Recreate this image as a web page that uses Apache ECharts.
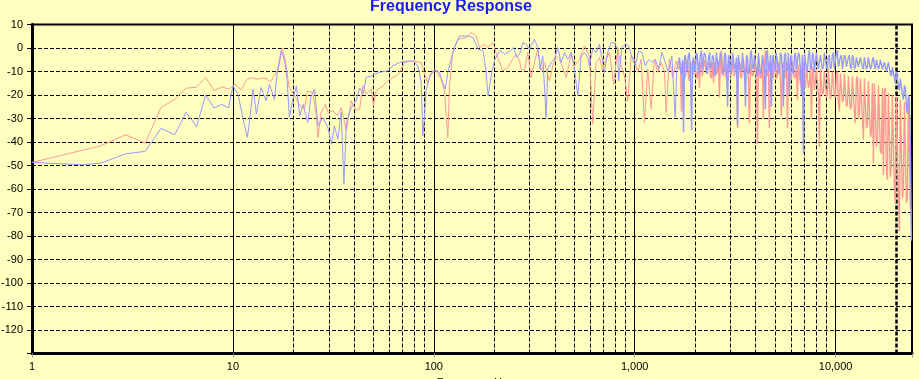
<!DOCTYPE html>
<html><head><meta charset="utf-8">
<script src="https://cdn.jsdelivr.net/npm/echarts@6/dist/echarts.min.js"></script>
<style>html,body{margin:0;padding:0;background:#ffffbf;}#c{width:919px;height:379px;}</style>
</head><body><div id="c"></div>
<script>
const chartTitle = 'Frequency Response';
const xAxisTitle = 'Frequency, Hz';
const seriesNames = ['Channel A', 'Channel B'];
const xTickLabels = {1: '1', 10: '10', 100: '100', 1000: '1,000', 10000: '10,000'};
const yTickValues = [10, 0, -10, -20, -30, -40, -50, -60, -70, -80, -90, -100, -110, -120];
const xRange = [1, 24000];
const yRange = [-130, 10];

// red (pink) trace, low / mid frequencies
const redHz = [1, 2.2, 2.93, 3.66, 4.39, 5.13, 5.86, 6.59, 7.32, 8.06,
  8.79, 9.52, 10.25, 10.99, 11.72, 12.45, 13.18, 13.92, 14.65, 15.38,
  16.11, 16.85, 17.58, 18.31, 19.04, 19.78, 20.51, 21.24, 21.97, 22.71,
  23.44, 25.0, 26.0, 26.5, 27.5, 28.9, 29.7, 31.4, 33.3, 34.6,
  36.7, 38.8, 41.1, 42.7, 44.4, 46.1, 48.8, 50.1, 51.7, 55.8,
  60.2, 65.0, 67.5, 71.5, 78.6, 86.6, 89.9, 93.3, 97.0, 102.8,
  108.8, 113, 117.4, 119.7, 124.3, 131.6, 145, 153.5, 162.5, 168.8,
  178.7, 185.7, 196.6, 208.2, 220.4, 233.4, 247.2, 257, 267, 272.2,
  282.6, 293.6, 305.2, 316.9, 329.2, 342.2, 355.3, 376.3, 390.9, 406.3,
  422, 455.7, 482.7, 501, 530.7, 562, 595, 618, 642.7, 667.4,
  693.2, 720.5, 748.3, 786.3, 823.2, 855.8, 889, 923, 959.6, 996.6,
  1035, 1076, 1118, 1161, 1207, 1253, 1302, 1353, 1405, 1433,
  1488, 1546, 1607, 1656];
const redDb = [-48.7, -41.6, -36.9, -40.5, -25.3, -21.8, -17.1, -16.7, -12.5, -18.2,
  -16.5, -17.5, -15.4, -17.9, -13.5, -12.6, -13.3, -12.8, -13.0, -14.5,
  -11.6, -9.0, 0.1, -6.0, -16.7, -18.8, -20.9, -23.5, -25.6, -26.0,
  -18.4, -18.9, -28.9, -38.1, -27.4, -23.9, -27.4, -26.7, -28.9, -25.3,
  -35.2, -22.5, -26.7, -26.0, -16.1, -19.6, -17.5, -24.6, -18.2, -16.1,
  -13.3, -11.9, -10.4, -6.2, -5.5, -6.2, -11.1, -14.7, -10.4, -9.7,
  -13.3, -18.2, -38.1, -16.1, -1.9, 3.7, 4.5, 6.6, 5.1, 0.2,
  1.6, 0.2, 2.3, -4.0, -9.7, -8.3, -4.8, -2.6, -5.5, -9.0,
  -9.7, -1.9, -12.5, -6.2, -0.5, -9.7, -6.2, -14.0, -7.6, -3.4,
  -4.8, -12.5, -2.6, -7.6, -4.8, 0.9, -3.4, -32.4, -6.2, -4.0,
  -9.7, -4.8, -1.9, -15.4, 0.2, -7.6, -11.9, -22.5, -3.4, -4.8,
  -10.4, -4.8, -31.7, -9.0, -26.0, -4.8, -10.4, -6.2, -9.7, -27.4,
  -4.8, -12.5, -5.5, -9.0];

// blue trace, low / mid frequencies
const blueHz = [1, 1.8, 2.2, 2.93, 3.66, 4.39, 5.13, 5.86, 6.59, 7.32,
  8.06, 8.79, 9.52, 10.0, 10.6, 11.2, 11.8, 12.1, 12.6, 13.1,
  13.8, 14.65, 15.2, 16.1, 16.7, 17.4, 18.1, 18.6, 19.1, 19.9,
  20.7, 21.5, 22.3, 23.6, 24.5, 25.5, 26.5, 28.0, 29.7, 30.9,
  32.0, 33.3, 34.6, 35.7, 36.7, 38.8, 41.1, 42.7, 44.4, 46.1,
  48.8, 50.7, 53.6, 59.0, 62.6, 67.5, 74.4, 78.6, 83.3, 86.6,
  88.1, 89.9, 91.5, 95.1, 100.7, 106.6, 110.6, 114.1, 117.4, 121.9,
  126.6, 134.2, 147.8, 156.6, 165.9, 175.8, 181.4, 186.3, 194.1, 201.6,
  213.6, 226.3, 239.8, 249.3, 259.3, 269.6, 277.3, 288.3, 299.7, 316.9,
  329.2, 338, 348.5, 362.4, 369, 383.5, 398.5, 414, 430.4, 447.2,
  464.7, 482.7, 501, 521, 541.5, 562, 584, 595, 618, 642.7,
  667.4, 693.2, 706, 733.5, 762, 791.5, 823.2, 831.5, 863.5, 897.5,
  932.6, 968.8, 1006, 1046, 1087, 1129, 1173, 1218, 1266, 1315,
  1366, 1419, 1474, 1531, 1591, 1621];
const blueDb = [-48.7, -49.7, -49.0, -45.0, -44.0, -34.2, -36.9, -27.4, -33.5, -20.0,
  -25.5, -24.0, -25.5, -16.1, -19.6, -29.5, -38.1, -31.0, -17.5, -28.1,
  -16.8, -22.5, -15.4, -21.8, -9.0, -1.2, -5.5, -13.3, -29.5, -21.8,
  -16.1, -28.9, -23.9, -31.7, -20.4, -17.5, -33.1, -29.5, -33.8, -40.9,
  -33.1, -38.8, -27.4, -57.9, -31.7, -25.3, -22.5, -17.0, -19.6, -12.5,
  -11.9, -11.1, -10.4, -9.7, -7.6, -6.2, -5.5, -5.5, -7.6, -14.7,
  -37.4, -28.9, -18.2, -12.5, -9.0, -10.4, -14.7, -17.5, -10.4, -4.8,
  0.2, 5.1, 5.1, 4.5, -0.5, -1.2, -9.0, -20.4, -10.4, -4.8,
  -1.2, -2.6, -1.2, 0.2, -4.0, -1.9, 2.3, 1.6, -0.5, 3.7,
  0.2, -9.0, -3.4, -29.5, -9.0, -6.2, -4.8, 0.2, -6.2, -1.9,
  -4.8, -1.9, -9.0, -20.4, -3.4, -1.9, -4.0, -7.6, -0.5, -1.9,
  1.6, -6.2, -10.4, -1.9, 2.3, 2.3, -0.5, -14.0, 0.2, 1.6,
  0.9, -4.0, -7.6, -1.2, -1.9, -7.6, -4.8, -6.2, -4.8, -9.0,
  -1.9, -6.2, -10.4, -3.4, -29.5, -9.0];

// dense high-frequency part (both traces read at the same frequencies)
const hfHz = [1670, 1690, 1710, 1730, 1750, 1770, 1790, 1810, 1830, 1850, 1870, 1890, 1920, 1940, 1960, 1980, 2010, 2030, 2050, 2080,
  2100, 2120, 2150, 2170, 2200, 2220, 2250, 2280, 2300, 2330, 2360, 2380, 2410, 2440, 2470, 2490, 2520, 2550, 2580, 2610,
  2640, 2670, 2700, 2730, 2770, 2800, 2830, 2860, 2900, 2930, 2960, 3000, 3030, 3070, 3100, 3130, 3170, 3210, 3250, 3280,
  3320, 3360, 3400, 3440, 3480, 3520, 3560, 3600, 3640, 3680, 3720, 3770, 3810, 3850, 3900, 3940, 3990, 4040, 4080, 4130,
  4180, 4220, 4270, 4320, 4370, 4420, 4470, 4530, 4580, 4630, 4680, 4740, 4790, 4850, 4900, 4960, 5020, 5070, 5130, 5190,
  5250, 5310, 5370, 5440, 5500, 5560, 5630, 5690, 5760, 5820, 5890, 5960, 6030, 6100, 6170, 6240, 6310, 6380, 6450, 6530,
  6600, 6680, 6760, 6830, 6910, 6990, 7070, 7160, 7240, 7320, 7410, 7490, 7580, 7670, 7750, 7840, 7930, 8020, 8120, 8210,
  8300, 8400, 8500, 8590, 8690, 8790, 8900, 9000, 9100, 9200, 9310, 9420, 9530, 9640, 9750, 9860, 9980, 10090, 10200, 10320,
  10440, 10560, 10690, 10810, 10930, 11060, 11190, 11320, 11450, 11580, 11710, 11840, 11980, 12120, 12260, 12400, 12540, 12690, 12840, 12980,
  13130, 13280, 13440, 13590, 13750, 13910, 14070, 14230, 14390, 14560, 14730, 14900, 15070, 15240, 15420, 15600, 15780, 15960, 16140, 16330,
  16520, 16710, 16900, 17090, 17290, 17490, 17690, 17890, 18100, 18310, 18520, 18730, 18950, 19170, 19390, 19610, 19840, 20070, 20300, 20530,
  20770, 21010, 21250, 21500, 21750, 22000, 22250, 22510, 22770, 23030, 23290, 23560, 23830];
const hfRed = [-9, -6, -27, -7, -6, -13, -12, -6, -5, -12, -14, -6, -7, -12, -11, -5, -5, -12, -13, -6,
  -17, -7, -6, -12, -12, -5, -5, -11, -11, -6, -7, -12, -13, -6, -15, -7, -6, -11, -10, -6,
  -21, -6, -1, -11, -12, -6, -6, -13, -13, -5, -5, -12, -11, -6, -7, -12, -12, -6, -34, -7,
  -6, -12, -13, -6, -5, -12, -12, -7, -7, -13, -32, -6, -6, -12, -11, -5, -5, -13, -41, -7,
  -7, -13, -12, -6, -30, -7, -1, -12, -11, -6, -34, -7, -6, -12, -13, -6, -5, -13, -12, -6,
  -7, -13, -29, -7, -6, -13, -12, -6, -34, -8, -7, -14, -13, -6, -6, -13, -12, -7, -22, -7,
  -7, -15, -14, -7, -6, -16, -17, -8, -8, -17, -15, -8, -30, -9, -8, -18, -18, -9, -9, -19,
  -42, -9, -9, -20, -19, -10, -10, -21, -20, -9, -9, -22, -19, -10, -10, -20, -21, -11, -10, -23,
  -27, -11, -11, -23, -22, -11, -11, -25, -24, -12, -12, -26, -25, -12, -12, -28, -32, -13, -12, -30,
  -28, -13, -13, -30, -39, -13, -13, -34, -33, -14, -14, -38, -36, -15, -49, -15, -15, -42, -40, -16,
  -16, -44, -45, -17, -54, -18, -17, -52, -56, -19, -19, -55, -50, -20, -20, -60, -66, -21, -21, -62,
  -78, -22, -22, -64, -60, -23, -23, -66, -63, -22, -22, -68, -70];
const hfBlue = [-4, -10, -11, -5, -36, -4, -3, -9, -10, -3, -2, -8, -35, -6, -4, -10, -9, -2, -3, -11,
  -10, -3, -1, -9, -9, -2, -3, -10, -11, -4, -2, -9, -8, -3, -4, -10, -12, -2, -2, -9,
  -9, -2, -3, -11, -10, -3, -2, -9, -25, -3, -4, -10, -11, -2, -2, -8, -9, -4, -33, -3,
  -3, -9, -10, -2, -2, -11, -25, -3, -4, -10, -11, -2, -1, -8, -9, -3, -3, -10, -12, -2,
  -2, -11, -10, -3, -3, -9, -26, -2, -1, -10, -9, -3, -25, -4, -3, -9, -10, -2, -2, -10,
  -11, -2, -3, -10, -25, -3, -2, -10, -9, -2, -20, -4, -3, -10, -11, -3, -2, -9, -9, -2,
  -3, -9, -20, -3, -45, -2, -2, -9, -10, -3, -1, -8, -9, -2, -3, -10, -10, -2, -2, -9,
  -9, -3, -3, -9, -8, -2, -2, -8, -9, -4, -3, -9, -8, -3, -2, -9, -9, -2, -1, -8,
  -8, -4, -3, -9, -9, -3, -4, -8, -8, -4, -3, -8, -9, -3, -4, -9, -8, -4, -4, -8,
  -8, -4, -4, -8, -9, -4, -4, -9, -8, -4, -4, -9, -8, -5, -4, -8, -9, -5, -5, -9,
  -8, -5, -5, -9, -9, -6, -6, -10, -10, -6, -6, -11, -12, -8, -8, -13, -15, -10, -10, -16,
  -18, -13, -13, -20, -22, -16, -17, -25, -28, -20, -22, -40, -82];

const zip = (xs, ys) => xs.map((x, i) => [x, ys[i]]);
const redLow = zip(redHz, redDb);
const blueLow = zip(blueHz, blueDb);
// the dense part is drawn as its own line (same colour), joined to the last low point
const redHigh = [redLow[redLow.length - 1]].concat(zip(hfHz, hfRed));
const blueHigh = [blueLow[blueLow.length - 1]].concat(zip(hfHz, hfBlue));

// minor grid positions (2..9 per decade, from 10 Hz up) and the 20 kHz line
const minorGrid = [10, 100, 1000].flatMap(d => [2, 3, 4, 5, 6, 7, 8, 9].map(m => m * d));
const heavyGrid = [20000];
const tickDepth = 1.8; // dB below axis for the small grey ticks

const RED = '#ff9999', BLUE = '#9999ff';
const FONT = 'Liberation Sans, Arial, sans-serif';
const lineSeries = (name, data, color, width, z) => ({
  name, type: 'line', data, symbol: 'none', z, silent: true,
  lineStyle: {color, width}, itemStyle: {color}
});
const chart = echarts.init(document.getElementById('c'), null, {renderer: 'canvas'});
chart.setOption({
  animation: false,
  backgroundColor: '#ffffbf',
  title: {
    text: chartTitle, left: 365, top: -6,
    textStyle: {color: '#1a1aff', fontSize: 16, fontWeight: 'bold', fontFamily: FONT}
  },
  grid: {left: 32, right: 7, top: 24.5, bottom: 25.5, show: true, containLabel: false,
    outerBoundsMode: 'none',
    backgroundColor: '#ffffbf', borderColor: '#000', borderWidth: 2},
  xAxis: {
    type: 'log', logBase: 10, min: xRange[0], max: xRange[1],
    name: xAxisTitle, nameLocation: 'middle', nameGap: 22,
    nameTextStyle: {color: '#000', fontSize: 11, fontFamily: FONT},
    axisLine: {show: true, onZero: false, lineStyle: {color: '#000', width: 3}},
    axisTick: {show: true, length: 4, lineStyle: {color: '#999', width: 1}},
    axisLabel: {color: '#000', fontSize: 11, fontFamily: FONT, margin: 8,
      formatter: v => xTickLabels[Math.round(v)] || ''},
    splitLine: {show: true, lineStyle: {color: '#000', width: 1, type: 'solid'}},
    minorTick: {show: false}, minorSplitLine: {show: false}
  },
  yAxis: {
    type: 'value', min: yRange[0], max: yRange[1], interval: 10,
    axisLine: {show: true, onZero: false, lineStyle: {color: '#000', width: 3}},
    axisTick: {show: true, length: 5, lineStyle: {color: '#000', width: 1}},
    axisLabel: {color: '#000', fontSize: 11, fontFamily: FONT, margin: 9,
      formatter: v => yTickValues.includes(v) ? String(v) : ''},
    splitLine: {show: true, lineStyle: {color: '#000', width: 1, type: [4, 2]}}
  },
  series: [
    {
      type: 'line', data: [], silent: true, z: 1,
      markLine: {
        z: 1, silent: true, symbol: ['none', 'none'], label: {show: false},
        animation: false,
        lineStyle: {color: '#000', width: 1, type: [4, 2]},
        data: minorGrid.map(f => ({xAxis: f}))
          .concat(heavyGrid.map(f => ({xAxis: f, lineStyle: {width: 2.5, type: [4, 2], color: '#000'}})))
      }
    },
    {
      type: 'line', data: [], silent: true, z: 1, clip: false,
      markLine: {
        z: 1, silent: true, symbol: ['none', 'none'], label: {show: false},
        animation: false,
        lineStyle: {color: '#999', width: 1, type: 'solid'},
        data: minorGrid.concat(heavyGrid).map(f => [
          {coord: [f, yRange[0]]}, {coord: [f, yRange[0] - tickDepth]}
        ])
      }
    },
    lineSeries(seriesNames[0], redLow, RED, 1, 3),
    lineSeries(seriesNames[0], redHigh, RED, 1.4, 3),
    lineSeries(seriesNames[1], blueLow, BLUE, 1, 4),
    lineSeries(seriesNames[1], blueHigh, BLUE, 1.4, 4)
  ]
});
</script>
</body></html>
